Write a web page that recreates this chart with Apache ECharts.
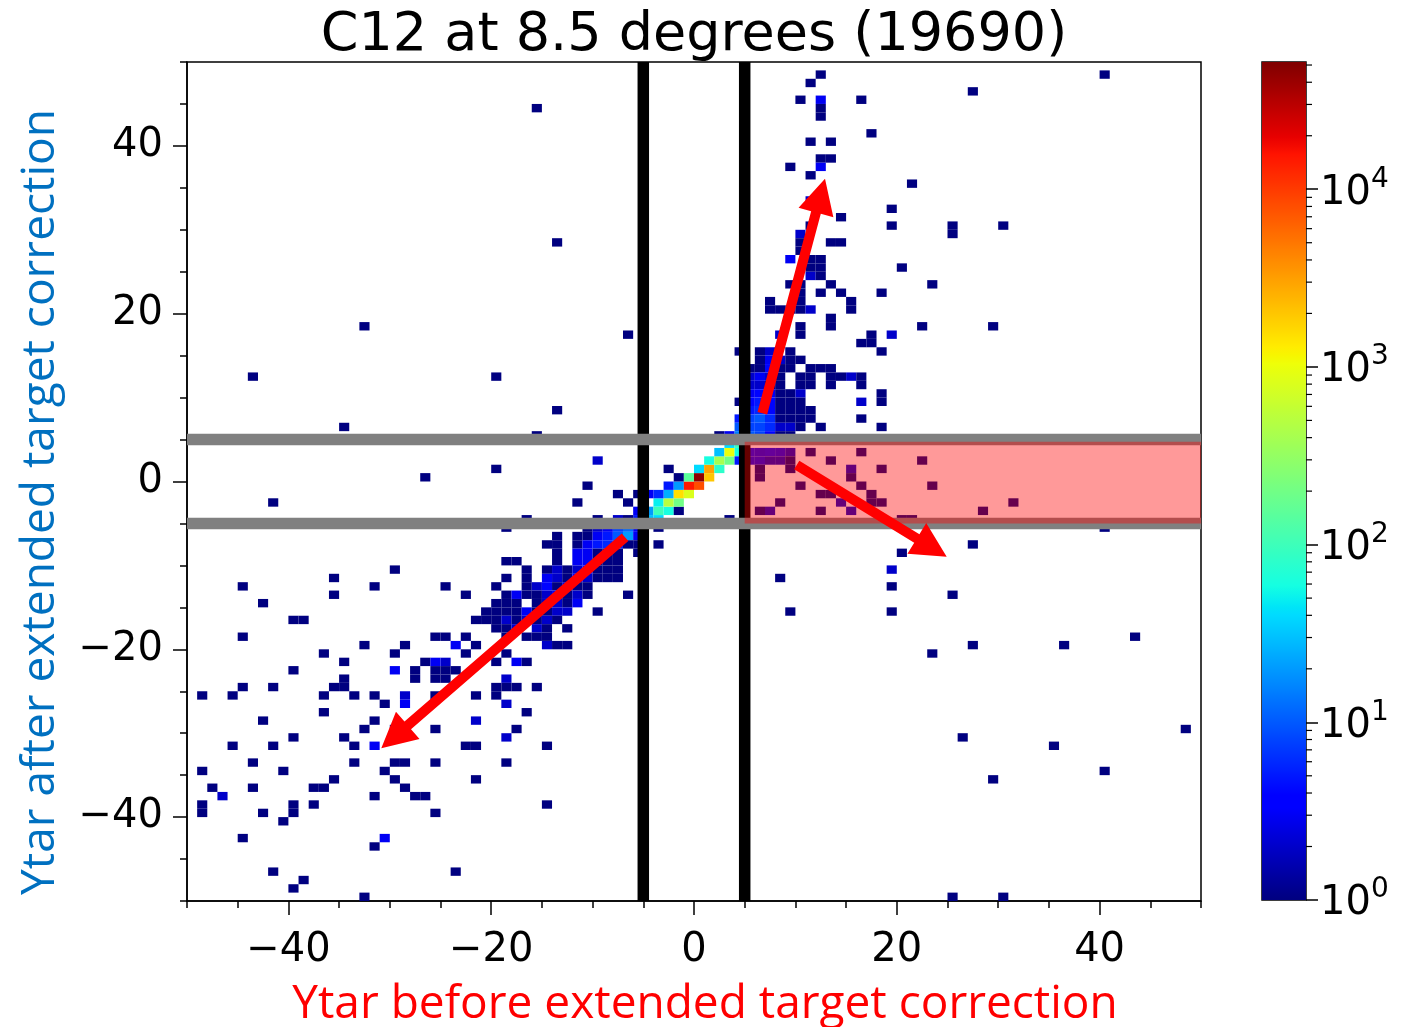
<!DOCTYPE html>
<html>
<head>
<meta charset="utf-8">
<script src="https://cdn.jsdelivr.net/npm/echarts@6/dist/echarts.min.js"></script>
<style>
  html, body { margin: 0; padding: 0; background: #ffffff; }
  #chart { width: 1405px; height: 1027px; }
</style>
</head>
<body>
<div id="chart"></div>
<script>
// Ytar 2D histogram, 1 x 1 bins. Each entry: [xLow, yLow, count]
const cellsCore = [
  [-5,-5,30],[-4,-5,40],[-5,-4,20],[-4,-4,100],[-3,-4,60],[-2,-4,1],[-4,-3,50],[-3,-3,500],[-2,-3,200],
  [-3,-2,25],[-2,-2,1500],[-1,-2,800],[-4,-2,6],[-5,-2,3],[-3,-1,5],[-2,-1,20],[-1,-1,15000],[0,-1,8000],
  [-3,1,1],[-2,0,1],[-1,0,150],[0,0,45000],[0,1,40],[1,1,3000],[1,0,2000],[1,2,60],[2,1,80],[2,2,400],
  [3,2,200],[2,3,30],[3,3,1000],[4,3,60],[3,4,40],[4,4,100],[4,2,5],[-6,-5,5],[-6,-4,3]
];

const cellsUpperArm = [
  [12,48,1],[11,47,1],[10,45,1],[12,45,3],[12,44,1],[12,43,1],[11,40,1],[13,40,1],[12,38,1],[13,38,1],
  [9,37,1],[12,37,3],[11,36,1],[11,33,2],[14,31,1],[11,30,1],[10,29,2],[13,28,1],[14,28,1],[10,28,1],
  [10,27,1],[9,26,3],[11,26,1],[12,26,1],[11,25,1],[12,25,1],[11,24,2],[12,24,1],
  [9,23,1],[10,23,1],[13,23,1],[12,22,1],[14,22,1],[10,22,1],[7,21,1],[10,21,1],[15,21,1],
  [7,20,1],[8,20,1],[9,20,1],[10,20,1],[11,20,2],[15,20,1],[13,19,1],[13,18,1],[10,18,1],[10,17,1],
  [8,17,2],[17,17,1],[19,17,2],[16,16,1],[17,16,1],[4,15,1],[6,15,1],[7,15,2],[9,15,1],[18,15,1],
  [6,14,1],[7,14,3],[8,14,2],[9,14,1],[10,14,1],[6,13,1],[7,13,4],[8,13,1],[9,13,1],[11,13,1],[12,13,1],
  [13,13,1],[6,12,3],[7,12,2],[8,12,1],[10,12,1],[11,12,1],[13,12,1],[14,12,1],[15,12,2],[16,12,1],
  [6,11,2],[7,11,1],[8,11,1],[10,11,1],[11,11,1],[13,11,1],[16,11,1],[6,10,4],[7,10,3],[8,10,1],[9,10,1],
  [10,10,2],[18,10,1],[4,9,1],[6,9,5],[7,9,4],[8,9,1],[9,9,1],[10,9,1],[16,9,2],[18,9,1],[6,8,6],[7,8,4],
  [8,8,1],[9,8,1],[10,8,1],[11,8,1],[4,7,5],[6,7,10],[7,7,6],[8,7,1],[9,7,1],[10,7,1],[11,7,1],[16,7,1],
  [4,6,10],[6,6,8],[7,6,6],[8,6,2],[9,6,2],[10,6,1],[12,6,1],[18,6,1],[2,5,1],[3,5,3],[4,5,15],[6,5,8],
  [7,5,4],[8,5,1],[9,5,1],[5,5,10],[5,6,8],[5,7,8],[5,8,5],[5,9,4],[5,10,3],[5,11,2],[5,12,2],[5,13,1]
];

const cellsRightBand = [
  [6,3,3],[7,3,4],[8,3,3],[9,3,2],[11,3,1],[16,3,1],[5,3,4],[5,2,3],[6,2,3],[7,2,2],[8,2,2],[9,2,1],
  [13,2,1],[22,2,1],[6,1,1],[9,1,1],[15,1,2],[18,1,1],[6,0,1],[15,0,1],[10,-1,1],[16,-1,1],[23,-1,1],
  [12,-2,1],[13,-2,1],[17,-2,1],[8,-3,1],[14,-3,2],[17,-3,1],[18,-3,1],[31,-3,1],[6,-4,1],[7,-4,2],
  [12,-4,1],[15,-4,2],[28,-4,1],[20,-5,1],[21,-5,1],[3,-5,1]
];

const cellsLowerArm = [
  [-19,-6,1],[-11,-6,1],[-10,-6,2],[-9,-6,3],[-8,-6,8],[-7,-6,12],[-6,-6,3],[-4,-6,1],
  [-14,-7,1],[-12,-7,1],[-11,-7,1],[-10,-7,3],[-9,-7,5],[-8,-7,10],[-7,-7,20],[-6,-7,3],
  [-15,-8,1],[-14,-8,1],[-12,-8,1],[-11,-8,3],[-10,-8,5],[-9,-8,6],[-8,-8,6],[-7,-8,1],[-6,-8,1],[-4,-8,1],
  [-14,-9,1],[-12,-9,3],[-11,-9,3],[-10,-9,1],[-9,-9,1],[-8,-9,1],[-6,-9,1],
  [-19,-10,1],[-18,-10,1],[-14,-10,1],[-12,-10,3],[-11,-10,3],[-10,-10,1],[-9,-10,1],[-8,-10,1],
  [-17,-11,1],[-15,-11,1],[-14,-11,2],[-13,-11,1],[-12,-11,2],[-11,-11,4],[-10,-11,1],[-9,-11,1],[-8,-11,1],
  [-19,-12,1],[-17,-12,1],[-15,-12,3],[-14,-12,2],[-13,-12,1],[-12,-12,4],[-11,-12,2],[-10,-12,1],[-9,-12,1],[-8,-12,1],
  [-20,-13,1],[-17,-13,1],[-16,-13,2],[-15,-13,4],[-14,-13,1],[-13,-13,2],[-12,-13,1],[-11,-13,1],
  [-23,-14,1],[-19,-14,1],[-18,-14,3],[-17,-14,1],[-16,-14,1],[-15,-14,2],[-14,-14,3],[-13,-14,1],[-12,-14,2],[-11,-14,1],[-7,-14,1],
  [-20,-15,1],[-19,-15,1],[-18,-15,1],[-16,-15,1],[-15,-15,2],[-14,-15,2],[-13,-15,1],[-12,-15,3],
  [-21,-16,1],[-20,-16,1],[-19,-16,1],[-18,-16,1],[-17,-16,3],[-16,-16,1],[-15,-16,1],[-14,-16,2],[-13,-16,2],[-10,-16,1],
  [-22,-17,1],[-21,-17,1],[-20,-17,1],[-19,-17,2],[-18,-17,1],[-17,-17,2],[-16,-17,1],[-15,-17,2],[-14,-17,1],
  [-20,-18,1],[-19,-18,1],[-18,-18,2],[-16,-18,2],[-15,-18,1],[-13,-18,1],
  [-25,-19,1],[-23,-19,1],[-19,-19,1],[-17,-19,1],[-16,-19,1],[-15,-19,1],
  [-24,-20,3],[-22,-20,1],[-15,-20,2],[-14,-20,1],[-13,-20,1],[-23,-21,1],[-19,-21,1],
  [-25,-22,2],[-20,-22,1],[-18,-22,3],[-17,-22,1],[-25,-23,1],[-24,-23,1],[-25,-24,1],[-19,-24,2],
  [-20,-25,1],[-19,-25,1],[-18,-25,1],[-16,-25,1],[-22,-26,1],[-20,-26,1],[-19,-27,2],
  [-30,-11,1],[-36,-12,1],[-36,-14,1],[-45,-13,1],[-32,-13,1],[-25,-13,1],[-43,-15,1],[-40,-17,1],[-39,-17,1],
  [-45,-19,1],[-26,-19,1],[-33,-20,1],[-29,-20,1],[-37,-21,1],[-30,-21,1],[-35,-22,1],[-40,-23,1],[-30,-23,3],
  [-28,-23,1],[-28,-24,1],[-27,-22,1],[-26,-22,3],[-26,-23,1],[-26,-24,1],[-35,-24,1],[-36,-25,1],[-35,-25,1],
  [-45,-25,1],[-46,-26,1],[-49,-26,1],[-42,-25,1],[-37,-26,1],[-34,-26,1],[-32,-26,1],[-31,-27,1],[-29,-26,2],
  [-29,-27,3],[-26,-26,1],[-37,-28,1],
  [-43,-29,1],[-32,-29,1],[-22,-29,2],[-17,-28,1],[-33,-30,1],[-30,-30,1],[-26,-30,1],[-18,-30,1],[-40,-31,1],
  [-35,-31,1],[-19,-31,2],[-46,-32,1],[-42,-32,1],[-34,-32,1],[-32,-32,3],[-23,-32,1],[-22,-32,1],[-15,-32,1],
  [-44,-34,1],[-34,-34,1],[-30,-34,1],[-29,-34,1],[-26,-34,1],[-19,-34,1],[-49,-35,1],[-41,-35,1],[-31,-35,1],
  [-30,-36,1],[-36,-36,1],[-22,-36,1],[-48,-37,1],[-44,-37,1],[-38,-37,1],[-37,-37,1],[-29,-37,1],[-47,-38,2],
  [-32,-38,1],[-28,-38,1],[-27,-38,1],[-49,-39,1],[-49,-40,1],[-40,-39,1],[-40,-40,1],[-38,-39,1],[-43,-40,1],
  [-26,-40,1],[-41,-41,1],[-15,-39,1],[-45,-43,1],[-31,-43,3],[-32,-44,1],[-42,-47,1],[-39,-48,1],[-40,-49,1],
  [-24,-47,1],[-33,-50,1]
];

const cellsSparse = [
  [-16,44,1],[-14,28,1],[-7,17,1],[-33,18,1],[-44,12,1],[-20,12,1],[-14,8,1],[-35,6,1],[-16,5,1],
  [-10,2,2],[-20,1,1],[-27,0,1],[-42,-3,1],[-11,-1,1],[-12,-3,1],[-8,-2,1],[-7,-3,1],[-6,-2,1],
  [-17,-5,1],[-10,-5,1],[-8,-5,2],[-7,-5,1],
  [40,48,1],[27,46,1],[16,45,1],[17,41,1],[21,35,1],[19,32,1],[19,30,1],[25,30,1],[25,29,1],[30,30,1],
  [20,25,1],[23,23,1],[18,22,1],[22,18,1],[29,18,1],
  [40,-6,1],[27,-8,1],[20,-9,1],[19,-11,2],[8,-12,1],[19,-13,1],[25,-14,1],[9,-16,1],[19,-16,1],[43,-19,1],
  [27,-20,1],[36,-20,1],[23,-21,1],[48,-30,1],[26,-31,1],[35,-32,1],[40,-35,1],[29,-36,1],[25,-50,1],[30,-50,1]
];

const allCells = [].concat(cellsCore, cellsUpperArm, cellsRightBand, cellsLowerArm, cellsSparse);

// Axis ticks
const majorTicks = [-40, -20, 0, 20, 40];
const cbarDecades = [0, 1, 2, 3, 4];
const COUNT_MAX = 52000;
const LOG_MAX = Math.log10(COUNT_MAX);

// Overlay annotations, in data units
const cutLinesX = [-5, 5];
const cutLinesY = [-5, 5];
const selectedBand = [[5, -5, 50, 4.75]];
const arrowSegments = [
  [6.74, 8.13, 12.92, 36.09],
  [10.13, 1.97, 24.92, -8.96],
  [-6.80, -6.65, -30.84, -31.80]
];

// matplotlib "jet" colormap, piecewise linear channels
function jetColor(t) {
  const seg = {
    r: [[0, 0], [0.35, 0], [0.66, 1], [0.89, 1], [1, 0.5]],
    g: [[0, 0], [0.125, 0], [0.375, 1], [0.64, 1], [0.91, 0], [1, 0]],
    b: [[0, 0.5], [0.11, 1], [0.34, 1], [0.65, 0], [1, 0]]
  };
  function ch(pts) {
    for (let i = 1; i < pts.length; i++) {
      if (t <= pts[i][0]) {
        const x0 = pts[i - 1][0], y0 = pts[i - 1][1], x1 = pts[i][0], y1 = pts[i][1];
        return y0 + (y1 - y0) * (t - x0) / (x1 - x0);
      }
    }
    return pts[pts.length - 1][1];
  }
  return 'rgb(' + Math.round(ch(seg.r) * 255) + ',' + Math.round(ch(seg.g) * 255) + ',' + Math.round(ch(seg.b) * 255) + ')';
}
const JET_STEPS = 200;
const jetColors = [];
for (let i = 0; i <= JET_STEPS; i++) jetColors.push(jetColor(i / JET_STEPS));

// log-spaced minor ticks of the colour bar (2..9 within each decade)
const cbarMinorTicks = [];
for (let d = 0; d <= 4; d++) {
  for (let k = 2; k <= 9; k++) {
    const v = d + Math.log10(k);
    if (v <= LOG_MAX) cbarMinorTicks.push(v);
  }
}

const TICK_FONT = 'DejaVu Sans';
const minusFmt = v => (v < 0 ? '\u2212' + Math.abs(v) : String(v));

const chart = echarts.init(document.getElementById('chart'), null, { renderer: 'canvas' });

const plotGrid = { left: 187, top: 62, width: 1014, height: 839 };

function minorAxis(dim) {
  return {
    type: 'value', gridIndex: 0, min: -50, max: 50, interval: 5,
    position: dim === 'x' ? 'bottom' : 'left',
    axisLine: { show: true, onZero: false, lineStyle: { color: '#000', width: 1.5 } },
    axisTick: { show: true, inside: false, length: 7, lineStyle: { color: '#000', width: 1.5 } },
    axisLabel: {
      show: true, customValues: majorTicks, formatter: minusFmt,
      fontFamily: TICK_FONT, fontSize: 40, color: '#000', margin: dim === 'x' ? 30 : 24
    },
    splitLine: { show: false }
  };
}
function majorAxis(dim) {
  return {
    type: 'value', gridIndex: 0, min: -50, max: 50, interval: 5,
    position: dim === 'x' ? 'bottom' : 'left',
    axisLine: { show: false, onZero: false },
    axisTick: { show: true, inside: false, length: 14, customValues: majorTicks, lineStyle: { color: '#000', width: 1.5 } },
    axisLabel: { show: false },
    splitLine: { show: false }
  };
}

const xMain = minorAxis('x');
xMain.name = 'Ytar before extended target correction';
xMain.nameLocation = 'middle';
xMain.nameGap = 81;
xMain.nameTextStyle = { fontFamily: 'Open Sans', fontSize: 46, color: '#ff0000', padding: [0, 0, 0, 22] };

const yMain = minorAxis('y');
yMain.name = 'Ytar after extended target correction';
yMain.nameLocation = 'middle';
yMain.nameGap = 123;
yMain.nameTextStyle = { fontFamily: 'Open Sans', fontSize: 46, color: '#0070c0', padding: [0, 41, 0, 0] };

const option = {
  animation: false,
  backgroundColor: '#ffffff',
  title: {
    text: 'C12 at 8.5 degrees (19690)',
    left: 694, top: 9, textAlign: 'center', padding: 0,
    textStyle: { fontFamily: TICK_FONT, fontSize: 54, fontWeight: 'normal', color: '#000' }
  },
  grid: [
    Object.assign({ show: true, borderColor: '#000', borderWidth: 1.5, backgroundColor: 'transparent', outerBoundsMode: 'none', containLabel: false }, plotGrid),
    { left: 1262, top: 62, width: 44, height: 838, show: true, borderColor: '#000', borderWidth: 1.5, outerBoundsMode: 'none', containLabel: false }
  ],
  xAxis: [
    xMain,
    majorAxis('x'),
    { type: 'value', gridIndex: 1, min: 0, max: 1, show: false }
  ],
  yAxis: [
    yMain,
    majorAxis('y'),
    {
      type: 'value', gridIndex: 1, min: 0, max: LOG_MAX, position: 'right',
      axisLine: { show: false, onZero: false },
      axisTick: { show: true, inside: false, length: 12, customValues: cbarDecades, lineStyle: { color: '#000', width: 1.5 } },
      axisLabel: {
        show: true, customValues: cbarDecades, margin: 14,
        formatter: v => '{b|10}{s|' + Math.round(v) + '}',
        rich: {
          b: { fontFamily: TICK_FONT, fontSize: 40, color: '#000', lineHeight: 48, verticalAlign: 'bottom' },
          s: { fontFamily: TICK_FONT, fontSize: 28, color: '#000', lineHeight: 18, verticalAlign: 'top' }
        }
      },
      splitLine: { show: false }
    }
  ],
  visualMap: {
    show: false, type: 'continuous', seriesIndex: 0, dimension: 2,
    min: 0, max: LOG_MAX, inRange: { color: jetColors }
  },
  series: [
    {
      type: 'custom', name: 'counts', xAxisIndex: 0, yAxisIndex: 0, silent: true,
      data: allCells.map(c => [c[0], c[1], Math.log10(c[2]), c[2]]),
      encode: { x: 0, y: 1 },
      renderItem: function (params, api) {
        const x = api.value(0), y = api.value(1);
        const a = api.coord([x, y + 1]);
        const b = api.coord([x + 1, y]);
        return {
          type: 'rect',
          shape: { x: a[0], y: a[1], width: b[0] - a[0], height: b[1] - a[1] },
          style: { fill: api.visual('color') }
        };
      }
    },
    {
      type: 'custom', name: 'x cuts', xAxisIndex: 0, yAxisIndex: 0, silent: true,
      data: cutLinesX.map(v => [v, 0]),
      encode: { x: 0, y: 1 },
      renderItem: function (params, api) {
        const a = api.coord([api.value(0), 50]);
        const b = api.coord([api.value(0), -50]);
        return { type: 'line', shape: { x1: a[0], y1: a[1], x2: b[0], y2: b[1] }, style: { stroke: '#000', lineWidth: 11.5 } };
      }
    },
    {
      type: 'custom', name: 'y cuts', xAxisIndex: 0, yAxisIndex: 0, silent: true,
      data: cutLinesY.map(v => [0, v]),
      encode: { x: 0, y: 1 },
      renderItem: function (params, api) {
        const a = api.coord([-50, api.value(1)]);
        const b = api.coord([50, api.value(1)]);
        return { type: 'line', shape: { x1: a[0], y1: a[1], x2: b[0], y2: b[1] }, style: { stroke: '#808080', lineWidth: 11.5 } };
      }
    },
    {
      type: 'custom', name: 'band', xAxisIndex: 0, yAxisIndex: 0, silent: true,
      data: selectedBand,
      encode: { x: [0, 2], y: [1, 3] },
      renderItem: function (params, api) {
        const a = api.coord([api.value(0), api.value(3)]);
        const b = api.coord([api.value(2), api.value(1)]);
        return {
          type: 'rect',
          shape: { x: a[0], y: a[1], width: b[0] - a[0], height: b[1] - a[1] },
          style: { fill: 'rgba(255,0,0,0.4)' }
        };
      }
    },
    {
      type: 'custom', name: 'arrows', xAxisIndex: 0, yAxisIndex: 0, silent: true,
      data: arrowSegments,
      encode: { x: [0, 2], y: [1, 3] },
      renderItem: function (params, api) {
        const p0 = api.coord([api.value(0), api.value(1)]);
        const p1 = api.coord([api.value(2), api.value(3)]);
        const dx = p1[0] - p0[0], dy = p1[1] - p0[1];
        const len = Math.sqrt(dx * dx + dy * dy);
        const ux = dx / len, uy = dy / len, nx = -uy, ny = ux;
        const shaft = 10, headW = 36, headL = 35;
        const bx = p1[0] - ux * headL, by = p1[1] - uy * headL;
        const pts = [
          [p0[0] + nx * shaft / 2, p0[1] + ny * shaft / 2],
          [bx + nx * shaft / 2, by + ny * shaft / 2],
          [bx + nx * headW / 2, by + ny * headW / 2],
          [p1[0], p1[1]],
          [bx - nx * headW / 2, by - ny * headW / 2],
          [bx - nx * shaft / 2, by - ny * shaft / 2],
          [p0[0] - nx * shaft / 2, p0[1] - ny * shaft / 2]
        ];
        return { type: 'polygon', shape: { points: pts }, style: { fill: '#ff0000' } };
      }
    },
    {
      type: 'custom', name: 'colour bar', xAxisIndex: 2, yAxisIndex: 2, silent: true,
      data: [[0, 0]],
      encode: { x: 0, y: 1 },
      renderItem: function (params, api) {
        const a = api.coord([0, LOG_MAX]);
        const b = api.coord([1, 0]);
        const stops = jetColors.map((c, i) => ({ offset: i / JET_STEPS, color: c }));
        return {
          type: 'rect',
          shape: { x: a[0], y: a[1], width: b[0] - a[0], height: b[1] - a[1] },
          style: { fill: new echarts.graphic.LinearGradient(0, 1, 0, 0, stops) }
        };
      }
    },
    {
      type: 'custom', name: 'colour bar minor ticks', xAxisIndex: 2, yAxisIndex: 2, silent: true,
      data: cbarMinorTicks.map(v => [1, v]),
      encode: { x: 0, y: 1 },
      renderItem: function (params, api) {
        const p = api.coord([1, api.value(1)]);
        return { type: 'line', shape: { x1: p[0], y1: p[1], x2: p[0] + 6, y2: p[1] }, style: { stroke: '#000', lineWidth: 1.2 } };
      }
    }
  ]
};

chart.setOption(option);
</script>
</body>
</html>
